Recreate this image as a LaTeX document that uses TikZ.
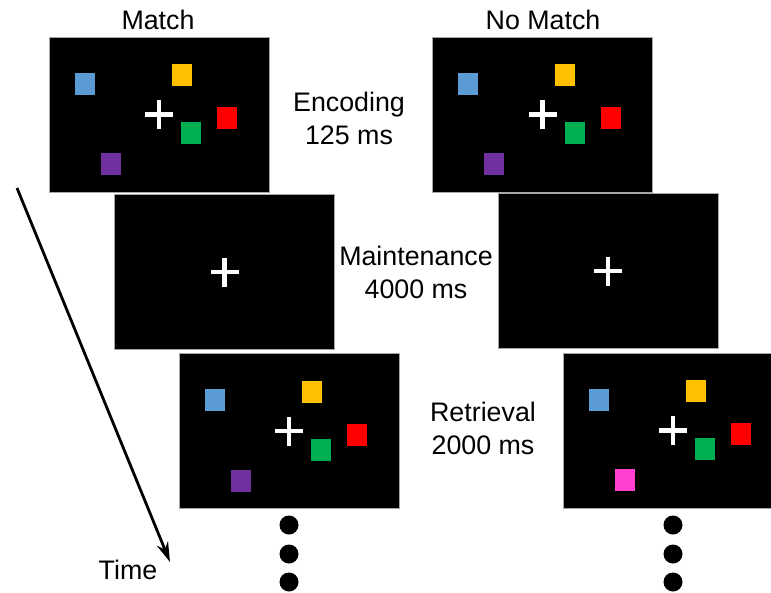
\documentclass[tikz,border=0pt]{standalone}
\usepackage{fontspec}
\setmainfont{Liberation Sans}
\usetikzlibrary{arrows.meta}

\definecolor{sqblue}{RGB}{91,155,213}
\definecolor{sqyellow}{RGB}{255,192,0}
\definecolor{sqred}{RGB}{255,0,0}
\definecolor{sqgreen}{RGB}{0,176,80}
\definecolor{sqpurple}{RGB}{112,48,160}
\definecolor{sqpink}{RGB}{255,64,208}

\tikzstyle{screen}=[fill=black, draw=gray!70, line width=0.8pt, inner sep=0pt,
  minimum width=220pt, minimum height=155pt]
\tikzstyle{patch}=[inner sep=0pt, minimum width=20pt, minimum height=22pt]
\tikzstyle{fixation}=[draw=white, line width=4.5pt]
\tikzstyle{caption}=[font=\fontsize{26.8}{33}\selectfont, align=center, inner sep=0pt]
\tikzstyle{dot}=[circle, fill=black, inner sep=0pt, minimum size=19pt]

% fixation cross in the middle of a screen
\newcommand{\fixcross}[1]{
  \draw[fixation] ([xshift=-14pt]#1.center) -- ([xshift=14pt]#1.center);
  \draw[fixation] ([yshift=-14.5pt]#1.center) -- ([yshift=14.5pt]#1.center);
}

% five coloured squares, #2 is the lower left one
\newcommand{\stimuli}[2]{
  \begin{scope}[shift={(#1.north west)}]
    \node[patch, fill=sqblue] (#1-blue) at (36,47) {};
    \node[patch, fill=sqyellow] (#1-yellow) at (133,38.5) {};
    \node[patch, fill=sqred] (#1-red) at (178.5,81.5) {};
    \node[patch, fill=sqgreen] (#1-green) at (142.5,96.5) {};
    \node[patch, fill=#2] (#1-probe) at (62,127.5) {};
  \end{scope}
  \fixcross{#1}
}

\begin{document}
\begin{tikzpicture}[x=1pt, y=-1pt]
  \useasboundingbox (0,0) rectangle (771,592);
  \clip (0,0) rectangle (771,592);

  % headers
  \node[caption] (match) at (158,20) {Match};
  \node[caption] (nomatch) at (543,20) {No Match};

  % encoding
  \node[screen] (enc1) at (159,114.5) {};
  \node[screen] (enc2) at (542.7,114.5) {};
  \stimuli{enc1}{sqpurple}
  \stimuli{enc2}{sqpurple}
  \node[caption] (enclab) at (349,118.5) {Encoding\\125 ms};

  % maintenance
  \node[screen] (main1) at (224.5,272) {};
  \node[screen] (main2) at (608,271) {};
  \fixcross{main1}
  \fixcross{main2}
  \node[caption] (mainlab) at (416,272.5) {Maintenance\\4000 ms};

  % retrieval
  \node[screen] (ret1) at (289,431) {};
  \node[screen] (ret2) at (673,430.5) {};
  \stimuli{ret1}{sqpurple}
  \stimuli{ret2}{sqpink}
  \node[caption] (retlab) at (483,428.5) {Retrieval\\2000 ms};

  % more trials
  \foreach \y [count=\i] in {525,554,582} {
    \node[dot] (more1-\i) at (289,\y) {};
    \node[dot] (more2-\i) at (673,\y) {};
  }

  % time axis
  \coordinate (t0) at (17,188);
  \coordinate (t1) at (170,562);
  \draw[line width=2.8pt, -{Stealth[length=20pt, width=12pt]}] (t0) -- (t1);
  \node[caption] (time) at (128,570) {Time};
\end{tikzpicture}
\end{document}
